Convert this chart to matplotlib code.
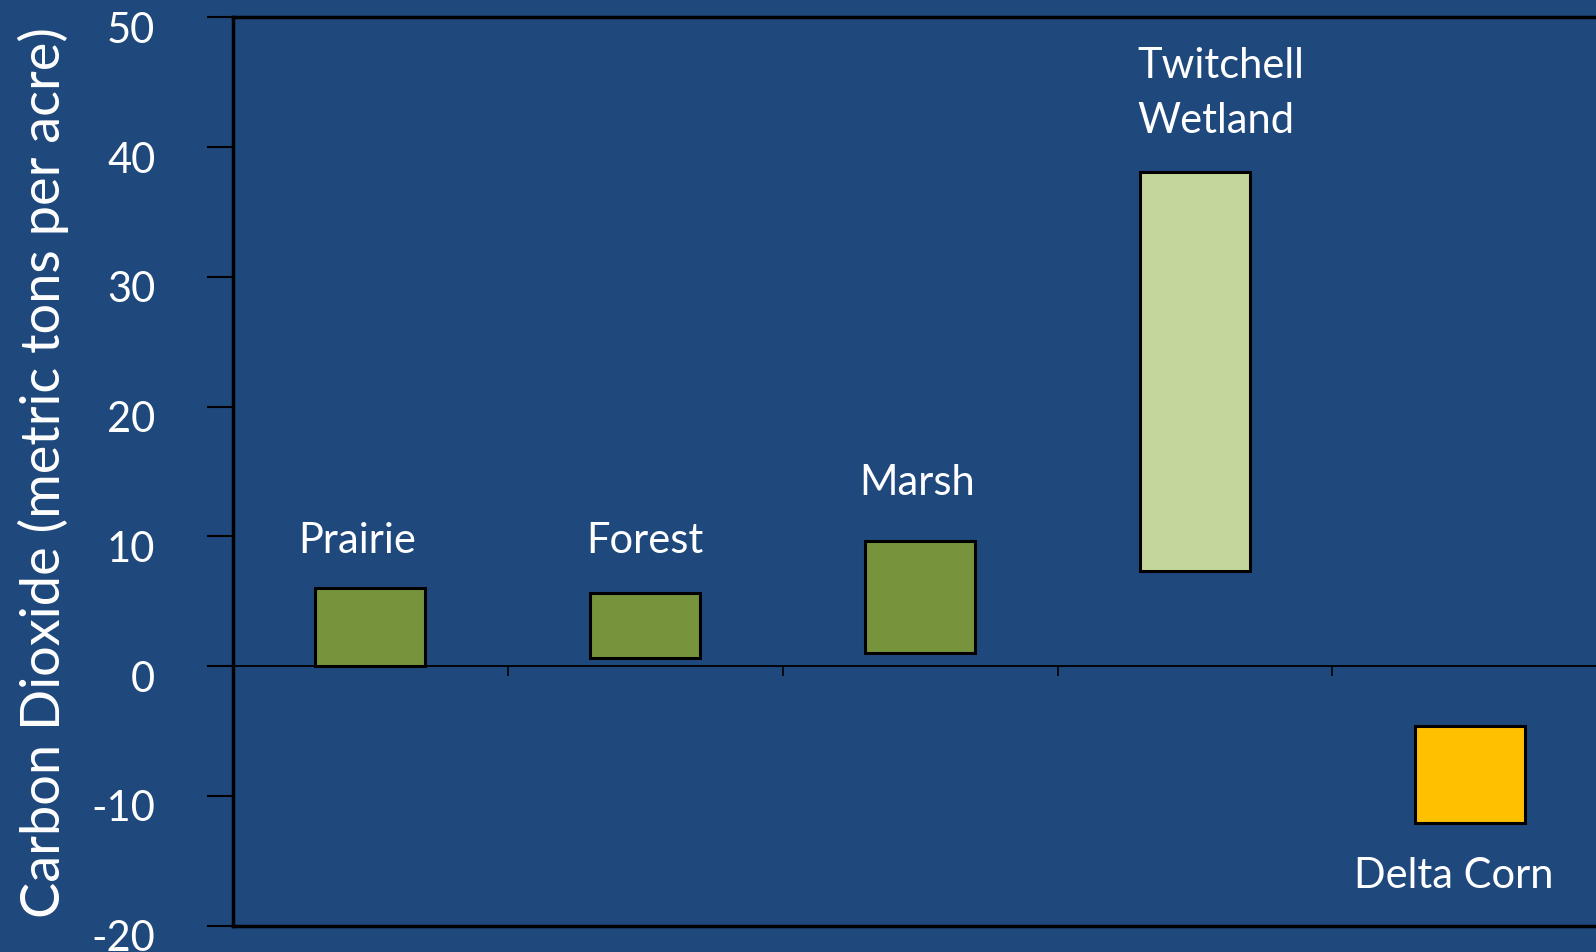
import matplotlib
matplotlib.use("Agg")
import matplotlib.pyplot as plt
import matplotlib.transforms as mtransforms
import numpy as np

# floating bars: each habitat spans a low..high range (metric tons CO2 per acre)
categories = ["Prairie", "Forest", "Marsh", "Twitchell\nWetland", "Delta Corn"]
low_values = [0.0, 0.65, 1.0, 7.3, -12.1]
high_values = [6.0, 5.65, 9.65, 38.1, -4.6]
bar_colors = ["#77933C", "#77933C", "#77933C", "#C3D69B", "#FFC000"]
y_ticks = [-20, -10, 0, 10, 20, 30, 40, 50]

BG = "#1F497D"
plt.rcParams["font.family"] = ["Lato", "DejaVu Sans"]

fig = plt.figure(figsize=(15.96, 9.53), dpi=100, facecolor=BG)
ax = fig.add_axes([0.146, 0.0276, 0.861, 0.953])
ax.set_facecolor(BG)

x = np.arange(len(categories))
heights = np.array(high_values) - np.array(low_values)
ax.bar(x, heights, bottom=low_values, width=0.4, color=bar_colors,
       edgecolor="black", linewidth=2.2, zorder=3)

# label placement relative to each bar (x offset, y position in data units)
label_pos = [(-0.05, 9.7, "center"), (0.0, 9.7, "center"), (-0.01, 14.2, "center"),
             (-0.21, 44.2, "left"), (-0.06, -16.1, "center")]
for i, (dx, ty, ha) in enumerate(label_pos):
    ax.text(x[i] + dx, ty, categories[i], ha=ha, va="center", color="white",
            fontsize=30, linespacing=1.55, zorder=4)

ax.set_xlim(-0.5, len(categories) - 0.5)
ax.set_ylim(-20, 50)
ax.set_yticks(y_ticks)
ax.set_yticklabels([str(v) for v in y_ticks])
ax.tick_params(axis="y", direction="out", length=19, width=1.5, pad=37,
               colors="black", labelcolor="white", labelsize=30)
ax.set_xticks([])
# labels sit a little below their ticks in the original
shift = mtransforms.ScaledTranslation(0, -9 / 100, fig.dpi_scale_trans)
for lbl in ax.get_yticklabels():
    lbl.set_transform(lbl.get_transform() + shift)

for side in ["left", "top", "bottom", "right"]:
    ax.spines[side].set_color("black")
    ax.spines[side].set_linewidth(2.5)

# category axis drawn along the zero line with small boundary ticks
zero_ax = ax.secondary_xaxis(20 / 70)
zero_ax.set_xticks(x[:-1] + 0.5)
zero_ax.set_xticklabels([])
zero_ax.tick_params(direction="out", length=7, width=1.2, colors="black")
zero_ax.spines["bottom"].set_linewidth(1.3)
zero_ax.spines["bottom"].set_color("black")
ax.plot([-0.5 - 0.07, -0.5], [0, 0], color="black", lw=1.3, clip_on=False)

ax.set_ylabel("Carbon Dioxide (metric tons per acre)", color="white",
              fontsize=39, labelpad=16)

fig.savefig("out.png", dpi=100, facecolor=BG)
